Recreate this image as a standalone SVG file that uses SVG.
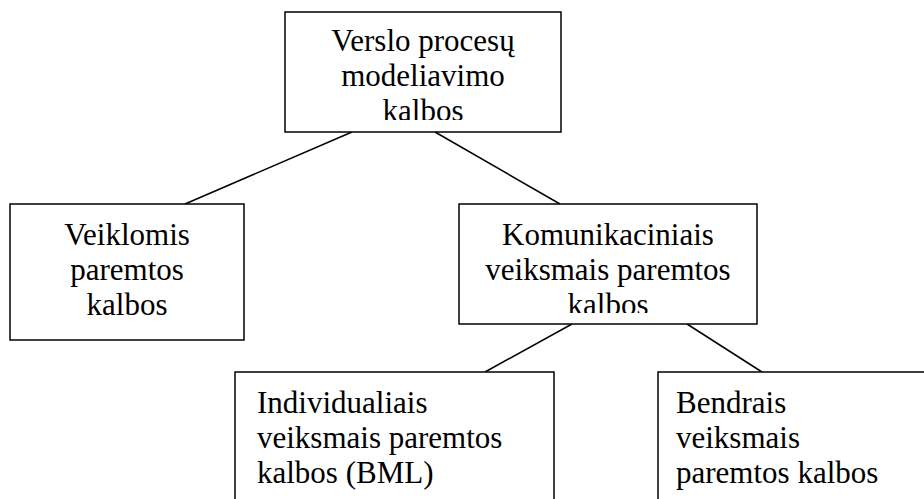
<svg xmlns="http://www.w3.org/2000/svg" width="924" height="499" viewBox="0 0 924 499">
<style>
.box{fill:#fff;stroke:#000;stroke-width:1.5}
.t{font-family:"Liberation Serif","Times New Roman",serif;font-size:31px;fill:#000}
.c{text-anchor:middle}
.ln{stroke:#000;stroke-width:1.5;fill:none}
</style>
<defs>
<clipPath id="clipTop"><rect x="286" y="13" width="274" height="107"/></clipPath>
<clipPath id="clipMid"><rect x="460" y="205" width="296" height="108"/></clipPath>
</defs>
<rect width="924" height="499" fill="#fff"/>
<g id="connectors">
<line class="ln" x1="352" y1="132" x2="185" y2="204"/>
<line class="ln" x1="435" y1="132" x2="560" y2="204"/>
<line class="ln" x1="572" y1="324" x2="485" y2="372"/>
<line class="ln" x1="687" y1="324" x2="762" y2="372"/>
</g>
<g id="node-top">
<rect class="box" x="285" y="12" width="276" height="120"/>
<g clip-path="url(#clipTop)">
<text class="t c" x="423" y="51">Verslo procesų</text>
<text class="t c" x="423" y="86">modeliavimo</text>
<text class="t c" x="423" y="121">kalbos</text>
</g>
</g>
<g id="node-left">
<rect class="box" x="10" y="204" width="234" height="136"/>
<text class="t c" x="127" y="245">Veiklomis</text>
<text class="t c" x="127" y="280">paremtos</text>
<text class="t c" x="127" y="315">kalbos</text>
</g>
<g id="node-mid">
<rect class="box" x="459" y="204" width="298" height="120"/>
<g clip-path="url(#clipMid)">
<text class="t c" x="608" y="245">Komunikaciniais</text>
<text class="t c" x="608" y="280">veiksmais paremtos</text>
<text class="t c" x="608" y="315">kalbos</text>
</g>
</g>
<g id="node-bml">
<rect class="box" x="235" y="372" width="319" height="140"/>
<text class="t" x="257" y="413">Individualiais</text>
<text class="t" x="257" y="448">veiksmais paremtos</text>
<text class="t" x="257" y="483">kalbos (BML)</text>
</g>
<g id="node-bendrais">
<rect class="box" x="658" y="372" width="280" height="140"/>
<text class="t" x="676" y="413">Bendrais</text>
<text class="t" x="676" y="448">veiksmais</text>
<text class="t" x="676" y="483">paremtos kalbos</text>
</g>
</svg>
